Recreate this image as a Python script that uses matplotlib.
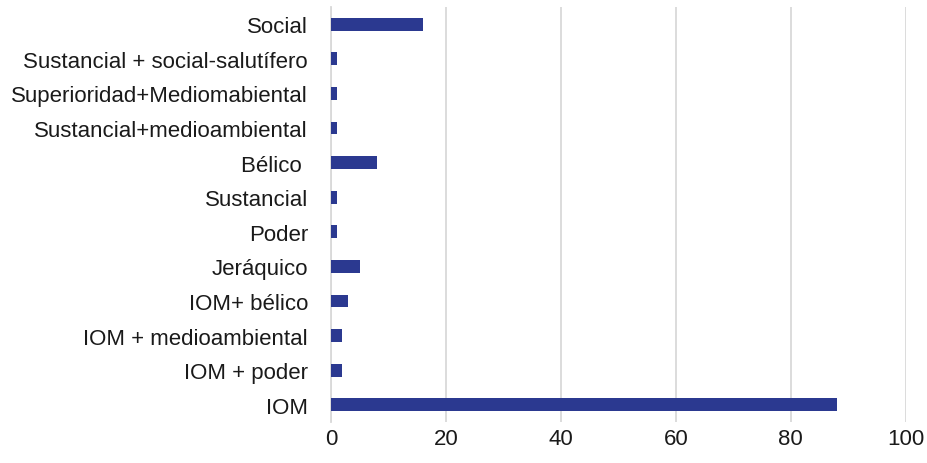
import matplotlib
matplotlib.use("Agg")
import matplotlib.pyplot as plt

# Categories listed bottom to top
categories = ["IOM", "IOM + poder", "IOM + medioambiental", "IOM+ bélico",
              "Jeráquico", "Poder", "Sustancial", "Bélico ",
              "Sustancial+medioambiental", "Superioridad+Mediomabiental",
              "Sustancial + social-salutífero", "Social"]
values = [88, 2, 2, 3, 5, 1, 1, 8, 1, 1, 1, 16]
xticks = [0, 20, 40, 60, 80, 100]

plt.rcParams['font.family'] = ['Liberation Sans', 'DejaVu Sans']

fig = plt.figure(figsize=(9.27, 4.64), dpi=100)
ax = fig.add_axes([0.357, 0.088, 0.620, 0.895])

ax.barh(range(len(categories)), values, height=0.37, color='#2B3990', zorder=3)

ax.set_xlim(0, 100)
ax.set_ylim(-0.5, len(categories) - 0.5)
ax.set_xticks(xticks)
ax.set_yticks(range(len(categories)))
ax.set_yticklabels(categories, fontsize=16, color='#1a1a1a')
ax.tick_params(axis='x', labelsize=16, colors='#1a1a1a', length=0, pad=4)
ax.tick_params(axis='y', length=0, pad=16.5)

ax.grid(axis='x', color='#D9D9D9', linewidth=1.3, zorder=0)
for side in ['top', 'right', 'bottom']:
    ax.spines[side].set_visible(False)
ax.spines['left'].set_color('#D9D9D9')
ax.spines['left'].set_linewidth(1.3)

fig.savefig("out.png", dpi=100)
